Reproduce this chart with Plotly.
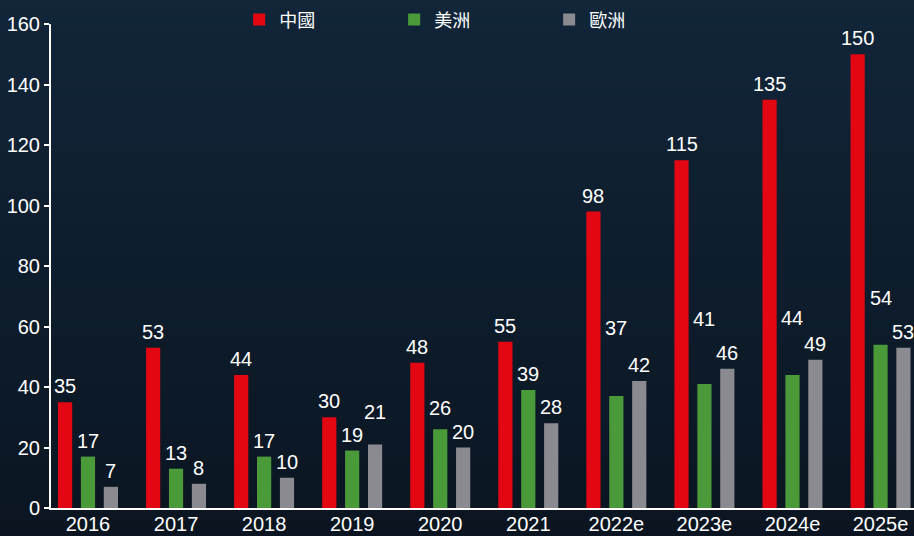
import base64, struct, zlib
import plotly.graph_objects as go

categories = ["2016", "2017", "2018", "2019", "2020", "2021", "2022e", "2023e", "2024e", "2025e"]
china = [35, 53, 44, 30, 48, 55, 98, 115, 135, 150]
americas = [17, 13, 17, 19, 26, 39, 37, 41, 44, 54]
europe = [7, 8, 10, 21, 20, 28, 42, 46, 49, 53]
y_ticks = [0, 20, 40, 60, 80, 100, 120, 140, 160]

# extra vertical lift (px) of some value labels, as placed in the original artwork
label_lift = {
    1: {4: 5, 6: 52, 7: 49, 8: 41, 9: 31},
    2: {3: 16},
}


def gradient_png(top, bottom, n=128):
    rows = b""
    for i in range(n):
        t = i / (n - 1)
        c = bytes(int(round(top[k] + (bottom[k] - top[k]) * t)) for k in range(3))
        rows += b"\x00" + c
    def chunk(tag, data):
        return struct.pack(">I", len(data)) + tag + data + struct.pack(">I", zlib.crc32(tag + data) & 0xffffffff)
    png = b"\x89PNG\r\n\x1a\n" + chunk(b"IHDR", struct.pack(">IIBBBBB", 1, n, 8, 2, 0, 0, 0))
    png += chunk(b"IDAT", zlib.compress(rows)) + chunk(b"IEND", b"")
    return "data:image/png;base64," + base64.b64encode(png).decode()


FONT = "Liberation Sans, Arial, Noto Sans CJK TC, sans-serif"
BARGAP = 0.22
series = [("中國", china, "#e30613"), ("美洲", americas, "#4a9a3a"), ("歐洲", europe, "#8a8a90")]
fig = go.Figure()
annotations = []
slot = (1 - BARGAP) / len(series)
for k, (name, vals, col) in enumerate(series):
    fig.add_trace(go.Bar(
        x=categories, y=vals, name=name, marker=dict(color=col, line=dict(width=0)),
    ))
    for i, v in enumerate(vals):
        annotations.append(dict(
            x=i + (k - 1) * slot, y=v, xref="x", yref="y", text=str(v), showarrow=False,
            yanchor="middle", xanchor="center", yshift=16 + label_lift.get(k, {}).get(i, 0),
            font=dict(color="white", size=20, family=FONT),
        ))

fig.update_layout(
    width=914, height=536,
    margin=dict(l=51, r=0, t=24, b=28, autoexpand=False),
    paper_bgcolor="#0d1b2a", plot_bgcolor="rgba(0,0,0,0)",
    barmode="group", bargap=BARGAP, bargroupgap=0.38,
    font=dict(family=FONT, color="white", size=19),
    showlegend=True,
    annotations=annotations,
    legend=dict(orientation="h", x=0.218, xanchor="left", yref="container", y=0.963, yanchor="middle",
                entrywidth=110, entrywidthmode="pixels",
                font=dict(size=18, color="white", family="Noto Sans CJK TC, sans-serif"),
                bgcolor="rgba(0,0,0,0)"),
    images=[dict(source=gradient_png((18, 38, 58), (10, 20, 31)), xref="paper", yref="paper",
                 x=-0.1, y=1.1, sizex=1.2, sizey=1.25, sizing="stretch", layer="below",
                 xanchor="left", yanchor="top")],
)
fig.update_xaxes(range=[-0.42, 9.38], showline=True, linecolor="white", linewidth=2,
                 ticks="", showgrid=False, zeroline=False, automargin=False,
                 ticklabelstandoff=-3, tickfont=dict(size=20, color="white"))
fig.update_yaxes(range=[0, 160], tickvals=y_ticks, showline=True, linecolor="white", linewidth=2,
                 ticks="outside", ticklen=5, tickcolor="white", tickwidth=2, showgrid=False,
                 zeroline=False, automargin=False, tickfont=dict(size=20, color="white"))
fig.write_html("out.html", config={"displayModeBar": False},
               post_script="document.body.style.margin='0';document.body.style.overflow='hidden';"
                           "document.body.style.background='#0d1b2a';")
